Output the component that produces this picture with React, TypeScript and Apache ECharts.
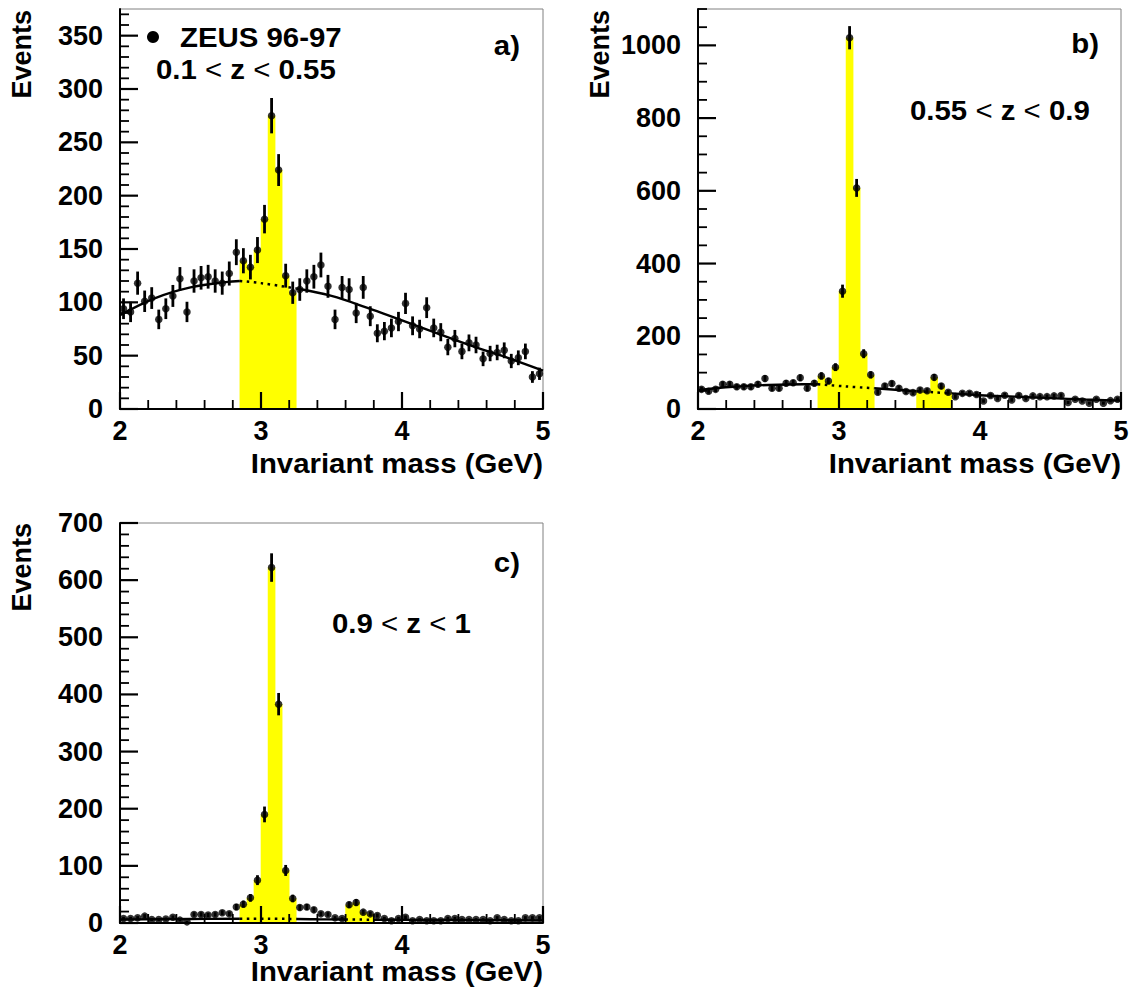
import React, { useEffect, useRef } from "react";
import * as echarts from "echarts";

// ---------------- data ----------------
const MASS_MIN = 2;
const MASS_MAX = 5;
const BIN_WIDTH = 0.05;

// events per 50 MeV bin, 2.00 - 5.00 GeV (60 bins)
const countsA = [
  94, 91, 118, 101, 104, 84, 94, 106, 122, 91,
  120, 123, 124, 120, 118, 127, 147, 139, 133, 149,
  178, 275, 224, 125, 109, 112, 120, 124, 135, 115,
  84, 114, 112, 90, 114, 87, 71, 73, 76, 82,
  99, 78, 75, 95, 76, 72, 58, 66, 54, 62,
  60, 47, 52, 53, 55, 45, 48, 54, 30, 33,
];
const countsB = [
  54, 49, 54, 68, 68, 61, 61, 61, 68, 84,
  57, 57, 71, 72, 86, 57, 71, 91, 77, 115,
  324, 1021, 608, 152, 94, 46, 63, 70, 57, 48,
  45, 52, 50, 87, 63, 46, 34, 43, 43, 40,
  22, 37, 29, 38, 25, 37, 29, 36, 34, 34,
  36, 37, 18, 27, 22, 16, 27, 16, 23, 27,
];
const countsC = [
  8, 8, 9, 12, 6, 6, 7, 10, 5, 2,
  15, 15, 14, 15, 18, 16, 28, 33, 44, 75,
  190, 622, 383, 92, 43, 27, 28, 23, 16, 15,
  9, 8, 32, 36, 19, 16, 13, 8, 4, 8,
  10, 4, 6, 4, 4, 4, 8, 8, 6, 6,
  6, 6, 4, 9, 6, 4, 4, 9, 9, 9,
];

// background fit (sampled from the figure)
const bgMassA = [2.0, 2.25, 2.5, 2.75, 2.85, 3.0, 3.25, 3.5, 3.75, 4.0, 4.25, 4.5, 4.75, 5.0];
const bgA = [88, 104, 114, 119, 120, 118, 113, 106, 95, 83, 71, 59, 48, 36];
const bgMassB = [2.0, 2.25, 2.5, 2.75, 2.85, 3.05, 3.25, 3.4, 3.55, 3.675, 3.8, 4.0, 4.25, 4.5, 4.75, 5.0];
const bgB = [52, 61, 66, 68, 68, 62, 57, 53, 49, 46, 43, 38, 34, 30, 26, 23];
const bgMassC = [2.0, 2.5, 2.85, 3.05, 3.25, 3.4, 3.6, 3.7, 3.8, 4.0, 4.5, 5.0];
const bgC = [6, 7, 7.5, 7.5, 7, 6.5, 6.2, 6, 5.8, 5.5, 5, 4.5];

// signal mass windows (yellow)
const windowsA = [[2.85, 3.25]];
const windowsB = [[2.85, 3.25], [3.55, 3.8]];
const windowsC = [[2.85, 3.25], [3.6, 3.8]];

// ticks
const xTicks = [2, 3, 4, 5];
const xMinorStep = 0.2;
const yTicksA = [0, 50, 100, 150, 200, 250, 300, 350];
const yTicksB = [0, 200, 400, 600, 800, 1000];
const yTicksC = [0, 100, 200, 300, 400, 500, 600, 700];
const yMaxA = 375;
const yMaxB = 1100;
const yMaxC = 700;
const yMinorStepA = 10;
const yMinorStepB = 50;
const yMinorStepC = 20;

const panelLabels = ["a)", "b)", "c)"];
const zRanges = [
  ["0.1", "0.55"],
  ["0.55", "0.9"],
  ["0.9", "1"],
];
const legendName = "ZEUS 96-97";
const xTitle = "Invariant mass (GeV)";
const yTitle = "Events";

// ---------------- helpers ----------------
const FONT = "'Liberation Sans', Arial, Helvetica, sans-serif";
const SX = 1.05; // horizontal stretch of annotation texts

function binCenter(i: number) {
  return MASS_MIN + (i + 0.5) * BIN_WIDTH;
}

function inWindow(lo: number, hi: number, windows: number[][]) {
  return windows.some(([a, b]) => lo >= a - 1e-6 && hi <= b + 1e-6);
}

function stepValues(min: number, max: number, step: number) {
  const out: number[] = [];
  const n = Math.floor((max - min) / step + 1e-6);
  for (let k = 0; k <= n; k++) out.push(Math.round((min + k * step) * 1000) / 1000);
  return out;
}

// inward ROOT-style ticks drawn through the axes' own scales
function tickSeries(idx: number, yMax: number, yTicks: number[], yMinorStep: number) {
  const data: number[][] = [];
  xTicks.forEach((v) => data.push([v, 0, 0]));
  stepValues(MASS_MIN, MASS_MAX, xMinorStep)
    .filter((v) => !xTicks.includes(v))
    .forEach((v) => data.push([v, 0, 1]));
  yTicks.forEach((v) => data.push([MASS_MIN, v, 2]));
  stepValues(0, yMax, yMinorStep)
    .filter((v) => !yTicks.includes(v))
    .forEach((v) => data.push([MASS_MIN, v, 3]));
  return {
    type: "custom",
    xAxisIndex: idx,
    yAxisIndex: idx,
    z: 10,
    clip: false,
    encode: { x: 0, y: 1 },
    data,
    renderItem: (params: any, api: any) => {
      const p = api.coord([api.value(0), api.value(1)]);
      const kind = api.value(2);
      if (kind < 2) {
        const len = kind === 0 ? 17 : 9;
        return {
          type: "line",
          shape: { x1: p[0], y1: p[1], x2: p[0], y2: p[1] - len },
          style: { stroke: "#000", lineWidth: kind === 0 ? 2.2 : 1.8 },
        };
      }
      const len = kind === 2 ? 18 : 9;
      return {
        type: "line",
        shape: { x1: p[0], y1: p[1], x2: p[0] + len, y2: p[1] },
        style: { stroke: "#000", lineWidth: kind === 2 ? 2.2 : 1.8 },
      };
    },
  };
}

function panelSeries(
  idx: number,
  counts: number[],
  bgX: number[],
  bgY: number[],
  windows: number[][],
  name: string
) {
  const series: any[] = [];
  // yellow signal histogram
  const yellow: number[][] = [];
  counts.forEach((c, i) => {
    const lo = MASS_MIN + i * BIN_WIDTH;
    const hi = lo + BIN_WIDTH;
    if (inWindow(lo, hi, windows)) yellow.push([lo, hi, c]);
  });
  series.push({
    type: "custom",
    xAxisIndex: idx,
    yAxisIndex: idx,
    z: 1,
    encode: { x: [0, 1], y: 2 },
    data: yellow,
    renderItem: (params: any, api: any) => {
      const p0 = api.coord([api.value(0), api.value(2)]);
      const p1 = api.coord([api.value(1), 0]);
      return {
        type: "rect",
        shape: { x: p0[0] - 0.3, y: p0[1], width: p1[0] - p0[0] + 0.6, height: p1[1] - p0[1] },
        style: { fill: "#ffff00" },
      };
    },
  });
  // background fit: solid outside windows, dotted inside
  const edges = [MASS_MIN];
  windows.forEach(([a, b]) => edges.push(a, b));
  edges.push(MASS_MAX);
  for (let k = 0; k < edges.length - 1; k++) {
    const lo = edges[k];
    const hi = edges[k + 1];
    const dotted = k % 2 === 1;
    const pts: number[][] = [];
    bgX.forEach((x, j) => {
      if (x >= lo - 1e-6 && x <= hi + 1e-6) pts.push([x, bgY[j]]);
    });
    series.push({
      type: "line",
      xAxisIndex: idx,
      yAxisIndex: idx,
      z: 2,
      smooth: 0.4,
      showSymbol: false,
      symbol: "none",
      data: pts,
      lineStyle: {
        color: "#000",
        width: dotted ? 2.5 : 2.4,
        type: dotted ? [2.5, 4.5] : "solid",
      },
    });
  }
  // error bars
  series.push({
    type: "custom",
    xAxisIndex: idx,
    yAxisIndex: idx,
    z: 3,
    encode: { x: 0, y: [1, 2] },
    data: counts.map((c, i) => [binCenter(i), c - Math.sqrt(c), c + Math.sqrt(c)]),
    renderItem: (params: any, api: any) => {
      const a = api.coord([api.value(0), api.value(1)]);
      const b = api.coord([api.value(0), api.value(2)]);
      return {
        type: "line",
        shape: { x1: a[0], y1: a[1], x2: b[0], y2: b[1] },
        style: { stroke: "#000", lineWidth: 2.8 },
      };
    },
  });
  // data points
  series.push({
    type: "scatter",
    name,
    xAxisIndex: idx,
    yAxisIndex: idx,
    z: 4,
    symbol: "circle",
    symbolSize: 7.5,
    itemStyle: { color: "#000" },
    data: counts.map((c, i) => [binCenter(i), c]),
  });
  return series;
}

function xAxisFor(gi: number) {
  return {
    gridIndex: gi,
    type: "value",
    position: "bottom",
    min: MASS_MIN,
    max: MASS_MAX,
    interval: xTicks[1] - xTicks[0],
    z: 7,
    axisLine: { show: true, onZero: false, lineStyle: { color: "#000", width: 2 } },
    axisTick: { show: false },
    axisLabel: {
      show: true,
      color: "#000",
      fontSize: 27,
      fontWeight: "bold",
      fontFamily: FONT,
      margin: 8,
      formatter: (v: number) => (xTicks.includes(v) ? String(v) : ""),
    },
    splitLine: { show: false },
  };
}

function yAxisFor(gi: number, max: number, ticks: number[]) {
  return {
    gridIndex: gi,
    type: "value",
    position: "left",
    min: 0,
    max,
    interval: ticks[1] - ticks[0],
    z: 7,
    axisLine: { show: true, onZero: false, lineStyle: { color: "#000", width: 2 } },
    axisTick: { show: false },
    axisLabel: {
      show: true,
      color: "#000",
      fontSize: 27,
      fontWeight: "bold",
      fontFamily: FONT,
      margin: 17,
      formatter: (v: number) => (ticks.includes(v) ? String(v) : ""),
    },
    splitLine: { show: false },
  };
}

function textEl(x: number, y: number, text: string, fontSize: number, align: string, extra: any = {}) {
  return {
    type: "text",
    x,
    y,
    z: 100,
    silent: true,
    ...extra,
    style: {
      text,
      fill: "#000",
      fontSize,
      fontWeight: "bold",
      fontFamily: FONT,
      align,
      verticalAlign: "middle",
    },
  };
}

function zText(x: number, y: number, r: string[]) {
  return {
    type: "text",
    x,
    y,
    z: 100,
    scaleX: SX,
    silent: true,
    style: {
      text: `${r[0]} {lt|<} z {lt|<} ${r[1]}`,
      fill: "#000",
      fontSize: 28,
      fontWeight: "bold",
      fontFamily: FONT,
      align: "left",
      verticalAlign: "middle",
      rich: {
        lt: { fontSize: 28, fontWeight: "normal", fontFamily: FONT, fill: "#000" },
      },
    },
  };
}

export default function App() {
  const ref = useRef<HTMLDivElement>(null);

  useEffect(() => {
    if (!ref.current) return;
    const chart = echarts.init(ref.current, undefined, { renderer: "svg" });

    const grids = [
      { left: 120, top: 9, width: 423, height: 400 },
      { left: 698, top: 9, width: 423, height: 400 },
      { left: 120, top: 523, width: 423, height: 400 },
    ].map((g) => ({ ...g, show: true, borderColor: "#808080", borderWidth: 1, backgroundColor: "transparent" }));

    const option: any = {
      animation: false,
      backgroundColor: "#fff",
      grid: grids,
      xAxis: [xAxisFor(0), xAxisFor(1), xAxisFor(2)],
      yAxis: [yAxisFor(0, yMaxA, yTicksA), yAxisFor(1, yMaxB, yTicksB), yAxisFor(2, yMaxC, yTicksC)],
      series: [
        ...panelSeries(0, countsA, bgMassA, bgA, windowsA, legendName),
        ...panelSeries(1, countsB, bgMassB, bgB, windowsB, legendName),
        ...panelSeries(2, countsC, bgMassC, bgC, windowsC, legendName),
        tickSeries(0, yMaxA, yTicksA, yMinorStepA),
        tickSeries(1, yMaxB, yTicksB, yMinorStepB),
        tickSeries(2, yMaxC, yTicksC, yMinorStepC),
      ],
      graphic: [
        // y titles
        textEl(22, 10, yTitle, 27, "right", { rotation: Math.PI / 2 }),
        textEl(600, 10, yTitle, 27, "right", { rotation: Math.PI / 2 }),
        textEl(22, 523, yTitle, 27, "right", { rotation: Math.PI / 2 }),
        // x titles
        textEl(543, 463, xTitle, 28, "right", { scaleX: SX }),
        textEl(1121, 463, xTitle, 28, "right", { scaleX: SX }),
        textEl(543, 971, xTitle, 28, "right", { scaleX: SX }),
        // legend
        { type: "circle", z: 100, silent: true, shape: { cx: 153, cy: 37, r: 6 }, style: { fill: "#000" } },
        textEl(180, 37, legendName, 28, "left", { scaleX: SX }),
        // panel letters
        textEl(520, 45, panelLabels[0], 28, "right", { scaleX: SX }),
        textEl(1099, 43, panelLabels[1], 28, "right", { scaleX: SX }),
        textEl(520, 562, panelLabels[2], 28, "right", { scaleX: SX }),
        // z ranges
        zText(156, 69, zRanges[0]),
        zText(910, 110, zRanges[1]),
        zText(332, 623, zRanges[2]),
      ],
    };

    chart.setOption(option);
    return () => chart.dispose();
  }, []);

  return (
    <div
      ref={ref}
      style={{ position: "absolute", left: 0, top: 0, width: 1133, height: 990, background: "#fff" }}
    />
  );
}
